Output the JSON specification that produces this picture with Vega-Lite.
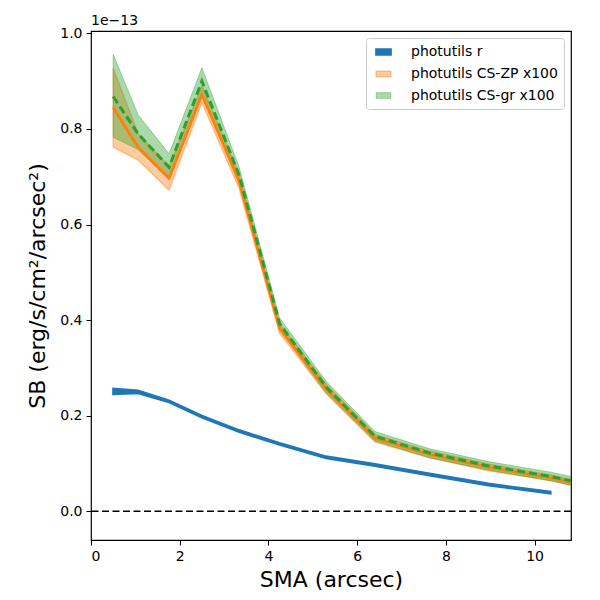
{
  "$schema": "https://vega.github.io/schema/vega-lite/v6.json",
  "width": 480,
  "height": 509,
  "autosize": "none",
  "padding": {"left": 91, "top": 31, "right": 29, "bottom": 60},
  "background": "white",
  "title": {"text": "1e\u221213", "anchor": "start", "frame": "group", "fontSize": 14, "fontWeight": "normal", "font": "DejaVu Sans", "color": "black", "offset": -16, "baseline": "bottom"},
  "config": {
    "font": "DejaVu Sans",
    "view": {"stroke": "black", "strokeWidth": 1.2},
    "axis": {"grid": false, "domain": false, "tickColor": "black", "tickSize": 5, "tickWidth": 1, "labelColor": "black", "labelFontSize": 14, "labelPadding": 4, "titleColor": "black", "titleFontSize": 22, "titleFontWeight": "normal"}
  },
  "datasets": {
    "profiles": [
      {"series": "photutils r", "sma": 0.5, "lo": 0.2452, "mid": 0.253, "hi": 0.2568},
      {"series": "photutils r", "sma": 1.06, "lo": 0.247, "mid": 0.25, "hi": 0.253},
      {"series": "photutils r", "sma": 1.76, "lo": 0.228, "mid": 0.23, "hi": 0.232},
      {"series": "photutils r", "sma": 2.5, "lo": 0.196, "mid": 0.198, "hi": 0.2},
      {"series": "photutils r", "sma": 3.34, "lo": 0.166, "mid": 0.168, "hi": 0.17},
      {"series": "photutils r", "sma": 4.25, "lo": 0.139, "mid": 0.141, "hi": 0.143},
      {"series": "photutils r", "sma": 5.3, "lo": 0.111, "mid": 0.113, "hi": 0.115},
      {"series": "photutils r", "sma": 6.4, "lo": 0.095, "mid": 0.097, "hi": 0.099},
      {"series": "photutils r", "sma": 7.63, "lo": 0.075, "mid": 0.077, "hi": 0.079},
      {"series": "photutils r", "sma": 8.96, "lo": 0.054, "mid": 0.056, "hi": 0.058},
      {"series": "photutils r", "sma": 10.36, "lo": 0.037, "mid": 0.039, "hi": 0.041},
      {"series": "photutils CS-ZP x100", "sma": 0.5, "lo": 0.762, "mid": 0.845, "hi": 0.927},
      {"series": "photutils CS-ZP x100", "sma": 1.06, "lo": 0.735, "mid": 0.762, "hi": 0.79},
      {"series": "photutils CS-ZP x100", "sma": 1.76, "lo": 0.672, "mid": 0.697, "hi": 0.722},
      {"series": "photutils CS-ZP x100", "sma": 2.5, "lo": 0.855, "mid": 0.872, "hi": 0.89},
      {"series": "photutils CS-ZP x100", "sma": 3.34, "lo": 0.675, "mid": 0.69, "hi": 0.705},
      {"series": "photutils CS-ZP x100", "sma": 4.25, "lo": 0.373, "mid": 0.383, "hi": 0.393},
      {"series": "photutils CS-ZP x100", "sma": 5.3, "lo": 0.246, "mid": 0.256, "hi": 0.266},
      {"series": "photutils CS-ZP x100", "sma": 6.4, "lo": 0.145, "mid": 0.153, "hi": 0.161},
      {"series": "photutils CS-ZP x100", "sma": 7.63, "lo": 0.112, "mid": 0.119, "hi": 0.126},
      {"series": "photutils CS-ZP x100", "sma": 8.96, "lo": 0.085, "mid": 0.092, "hi": 0.099},
      {"series": "photutils CS-ZP x100", "sma": 10.36, "lo": 0.064, "mid": 0.07, "hi": 0.076},
      {"series": "photutils CS-ZP x100", "sma": 11.86, "lo": 0.034, "mid": 0.04, "hi": 0.046},
      {"series": "photutils CS-gr x100", "sma": 0.5, "lo": 0.783, "mid": 0.868, "hi": 0.956},
      {"series": "photutils CS-gr x100", "sma": 1.06, "lo": 0.757, "mid": 0.79, "hi": 0.83},
      {"series": "photutils CS-gr x100", "sma": 1.76, "lo": 0.695, "mid": 0.72, "hi": 0.748},
      {"series": "photutils CS-gr x100", "sma": 2.5, "lo": 0.875, "mid": 0.9, "hi": 0.928},
      {"series": "photutils CS-gr x100", "sma": 3.34, "lo": 0.685, "mid": 0.703, "hi": 0.72},
      {"series": "photutils CS-gr x100", "sma": 4.25, "lo": 0.38, "mid": 0.393, "hi": 0.405},
      {"series": "photutils CS-gr x100", "sma": 5.3, "lo": 0.248, "mid": 0.26, "hi": 0.272},
      {"series": "photutils CS-gr x100", "sma": 6.4, "lo": 0.147, "mid": 0.157, "hi": 0.167},
      {"series": "photutils CS-gr x100", "sma": 7.63, "lo": 0.112, "mid": 0.122, "hi": 0.131},
      {"series": "photutils CS-gr x100", "sma": 8.96, "lo": 0.086, "mid": 0.095, "hi": 0.104},
      {"series": "photutils CS-gr x100", "sma": 10.36, "lo": 0.064, "mid": 0.073, "hi": 0.082},
      {"series": "photutils CS-gr x100", "sma": 11.86, "lo": 0.034, "mid": 0.043, "hi": 0.052}
    ]
  },
  "layer": [
    {
      "data": {"values": [{"level": 0}]},
      "mark": {"type": "rule", "color": "black", "strokeWidth": 1.5, "strokeDash": [7, 3.5]},
      "encoding": {
        "y": {"field": "level", "type": "quantitative", "scale": {"domain": [-0.06, 1.005], "nice": false, "zero": false}}
      }
    },
    {
      "data": {"name": "profiles"},
      "mark": {"type": "area", "clip": true},
      "encoding": {
        "x": {"field": "sma", "type": "quantitative", "title": "SMA (arcsec)", "scale": {"domain": [0, 10.82], "nice": false, "zero": false}, "axis": {"values": [0, 2, 4, 6, 8, 10], "titlePadding": 6}},
        "y": {"field": "lo", "type": "quantitative", "title": "SB (erg/s/cm\u00b2/arcsec\u00b2)", "scale": {"domain": [-0.06, 1.005], "nice": false, "zero": false}, "axis": {"values": [0, 0.2, 0.4, 0.6, 0.8, 1.0], "format": ".1f", "titlePadding": 10}},
        "y2": {"field": "hi"},
        "color": {
          "field": "series", "type": "nominal",
          "scale": {"domain": ["photutils r", "photutils CS-ZP x100", "photutils CS-gr x100"], "range": ["rgba(31,119,180,1)", "rgba(255,127,14,0.4)", "rgba(44,160,44,0.4)"]},
          "legend": {
            "title": null, "orient": "top-right", "offset": 7, "padding": 6,
            "strokeColor": "#cccccc", "fillColor": "rgba(255,255,255,0.8)", "cornerRadius": 3,
            "symbolType": "M-0.55,-0.4L1.55,-0.4L1.55,0.4L-0.55,0.4Z", "symbolSize": 196, "symbolStrokeWidth": 0,
            "labelFontSize": 14, "labelColor": "black", "labelOffset": 23, "labelLimit": 300, "rowPadding": 7
          }
        },
        "stroke": {
          "field": "series", "type": "nominal",
          "scale": {"domain": ["photutils r", "photutils CS-ZP x100", "photutils CS-gr x100"], "range": ["rgba(31,119,180,1)", "rgba(255,127,14,0.4)", "rgba(44,160,44,0.4)"]},
          "legend": null
        },
        "strokeWidth": {
          "field": "series", "type": "nominal",
          "scale": {"domain": ["photutils r", "photutils CS-ZP x100", "photutils CS-gr x100"], "range": [2, 1, 1]},
          "legend": null
        }
      }
    },
    {
      "data": {"name": "profiles"},
      "transform": [{"filter": "datum.series == 'photutils CS-ZP x100'"}],
      "mark": {"type": "line", "clip": true, "color": "#ff7f0e", "strokeWidth": 2.8},
      "encoding": {
        "x": {"field": "sma", "type": "quantitative"},
        "y": {"field": "mid", "type": "quantitative"}
      }
    },
    {
      "data": {"name": "profiles"},
      "transform": [{"filter": "datum.series == 'photutils CS-gr x100'"}],
      "mark": {"type": "line", "clip": true, "color": "#2ca02c", "strokeWidth": 3, "strokeDash": [8, 4]},
      "encoding": {
        "x": {"field": "sma", "type": "quantitative"},
        "y": {"field": "mid", "type": "quantitative"}
      }
    }
  ]
}
